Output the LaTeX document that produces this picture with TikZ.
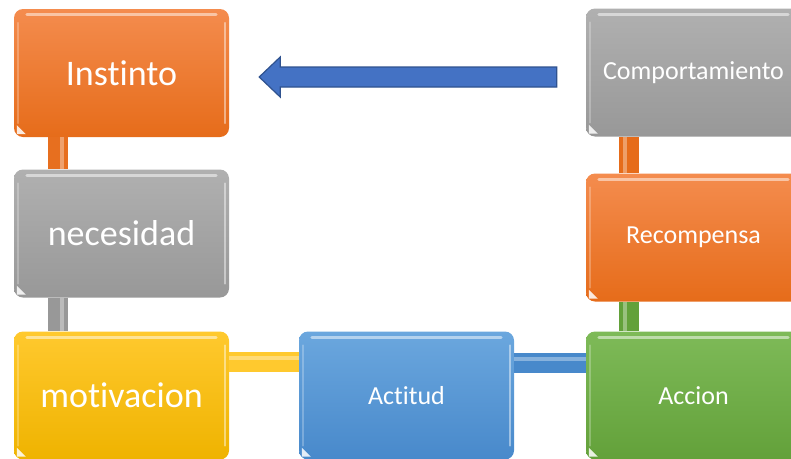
\documentclass[tikz,border=0pt]{standalone}
\usepackage{fontspec}
\setmainfont{Carlito}[Ligatures=NoCommon]
\usetikzlibrary{calc}
\definecolor{orT}{HTML}{F48C4E}
\definecolor{orB}{HTML}{E66C1A}
\definecolor{grT}{HTML}{B0B0B0}
\definecolor{grB}{HTML}{989898}
\definecolor{yeT}{HTML}{FFC92E}
\definecolor{yeB}{HTML}{EFB300}
\definecolor{blT}{HTML}{6BA7DE}
\definecolor{blB}{HTML}{4889CB}
\definecolor{gnT}{HTML}{7EBA58}
\definecolor{gnB}{HTML}{63A13A}
\definecolor{arF}{HTML}{4472C4}
\definecolor{arD}{HTML}{2F528F}
\begin{document}
\begin{tikzpicture}[x=1pt,y=-1pt,
  box/.style={rounded corners=9pt, minimum width=215pt, minimum height=128pt,
    inner sep=0pt, text=white, font=\fontsize{26}{30}\selectfont},
  big/.style={font=\fontsize{36}{42}\selectfont},
  orbox/.style={top color=orT, bottom color=orB},
  grbox/.style={top color=grT, bottom color=grB},
  yebox/.style={top color=yeT, bottom color=yeB},
  blbox/.style={top color=blT, bottom color=blB},
  gnbox/.style={top color=gnT, bottom color=gnB},
  bar/.style={line width=20pt, draw=#1},
  barhl/.style={line width=4pt, draw=white, opacity=0.35},
  blockarrow/.style={fill=arF, draw=arD, line width=1.2pt, line join=miter}
]
\useasboundingbox (0,0) rectangle (791,458);
\clip (0,0) rectangle (791,458);

\node[box,big,orbox] (inst) at (121.5,73) {Instinto};
\node[box,big,grbox] (nec) at (121.5,233.5) {necesidad};
\node[box,big,yebox] (mot) at (121.5,395.5) {motivacion};
\node[box,blbox] (act) at (406.5,395.5) {Actitud};
\node[box,gnbox] (acc) at (693.5,395.5) {Accion};
\node[box,orbox] (rec) at (693.5,237.5) {Recompensa};
\node[box,grbox] (comp) at (693.5,72.5) {Comportamiento};

% connector bars
\draw[bar=orB!90!orT] ([xshift=44pt]inst.south west) -- ([xshift=44pt]nec.north west);
\draw[barhl] ([xshift=48pt]inst.south west) -- ([xshift=48pt]nec.north west);
\draw[bar=grB] ([xshift=44pt]nec.south west) -- ([xshift=44pt]mot.north west);
\draw[barhl] ([xshift=48pt]nec.south west) -- ([xshift=48pt]mot.north west);
\draw[bar=yeT] ([yshift=-31pt]mot.north east) -- ([yshift=-31pt]act.north west);
\draw[barhl] ([yshift=-27pt]mot.north east) -- ([yshift=-27pt]act.north west);
\draw[bar=blB] ([yshift=-32pt]act.north east) -- ([yshift=-32pt]acc.north west);
\draw[barhl] ([yshift=-28pt]act.north east) -- ([yshift=-28pt]acc.north west);
\draw[bar=gnB] ([xshift=43pt]acc.north west) -- ([xshift=43pt]rec.south west);
\draw[barhl] ([xshift=39pt]acc.north west) -- ([xshift=39pt]rec.south west);
\draw[bar=orB] ([xshift=43pt]rec.north west) -- ([xshift=43pt]comp.south west);
\draw[barhl] ([xshift=39pt]rec.north west) -- ([xshift=39pt]comp.south west);

% glossy highlights
\foreach \n in {inst,nec,mot,act,acc,rec,comp}{
  \draw[white,opacity=0.5,line width=3pt,line cap=round]
    ([xshift=13pt,yshift=-6pt]\n.north west) -- ([xshift=-13pt,yshift=-6pt]\n.north east);
  \draw[white,opacity=0.25,line width=2pt,line cap=round]
    ([xshift=4pt,yshift=-14pt]\n.north west) -- ([xshift=4pt,yshift=14pt]\n.south west);
  \draw[white,opacity=0.45,line width=2pt,line cap=round]
    ([xshift=-4pt,yshift=-14pt]\n.north east) -- ([xshift=-4pt,yshift=14pt]\n.south east);
  \fill[white,opacity=0.85] ([xshift=3pt,yshift=3pt]\n.south west) -- ++(9,0) -- ++(-9,-9) -- cycle;
}

% block arrow from Comportamiento to Instinto
\coordinate (atip) at ([xshift=30pt,yshift=-4pt]inst.east);
\coordinate (aend) at ([xshift=-29pt,yshift=-4.5pt]comp.west);
\draw[blockarrow] (atip) -- ++(21,-20) -- ++(0,10) -- ([yshift=10pt]aend)
  -- ([yshift=-10pt]aend) -- ($(atip)+(21,10)$) -- ++(0,10) -- cycle;
\end{tikzpicture}
\end{document}
